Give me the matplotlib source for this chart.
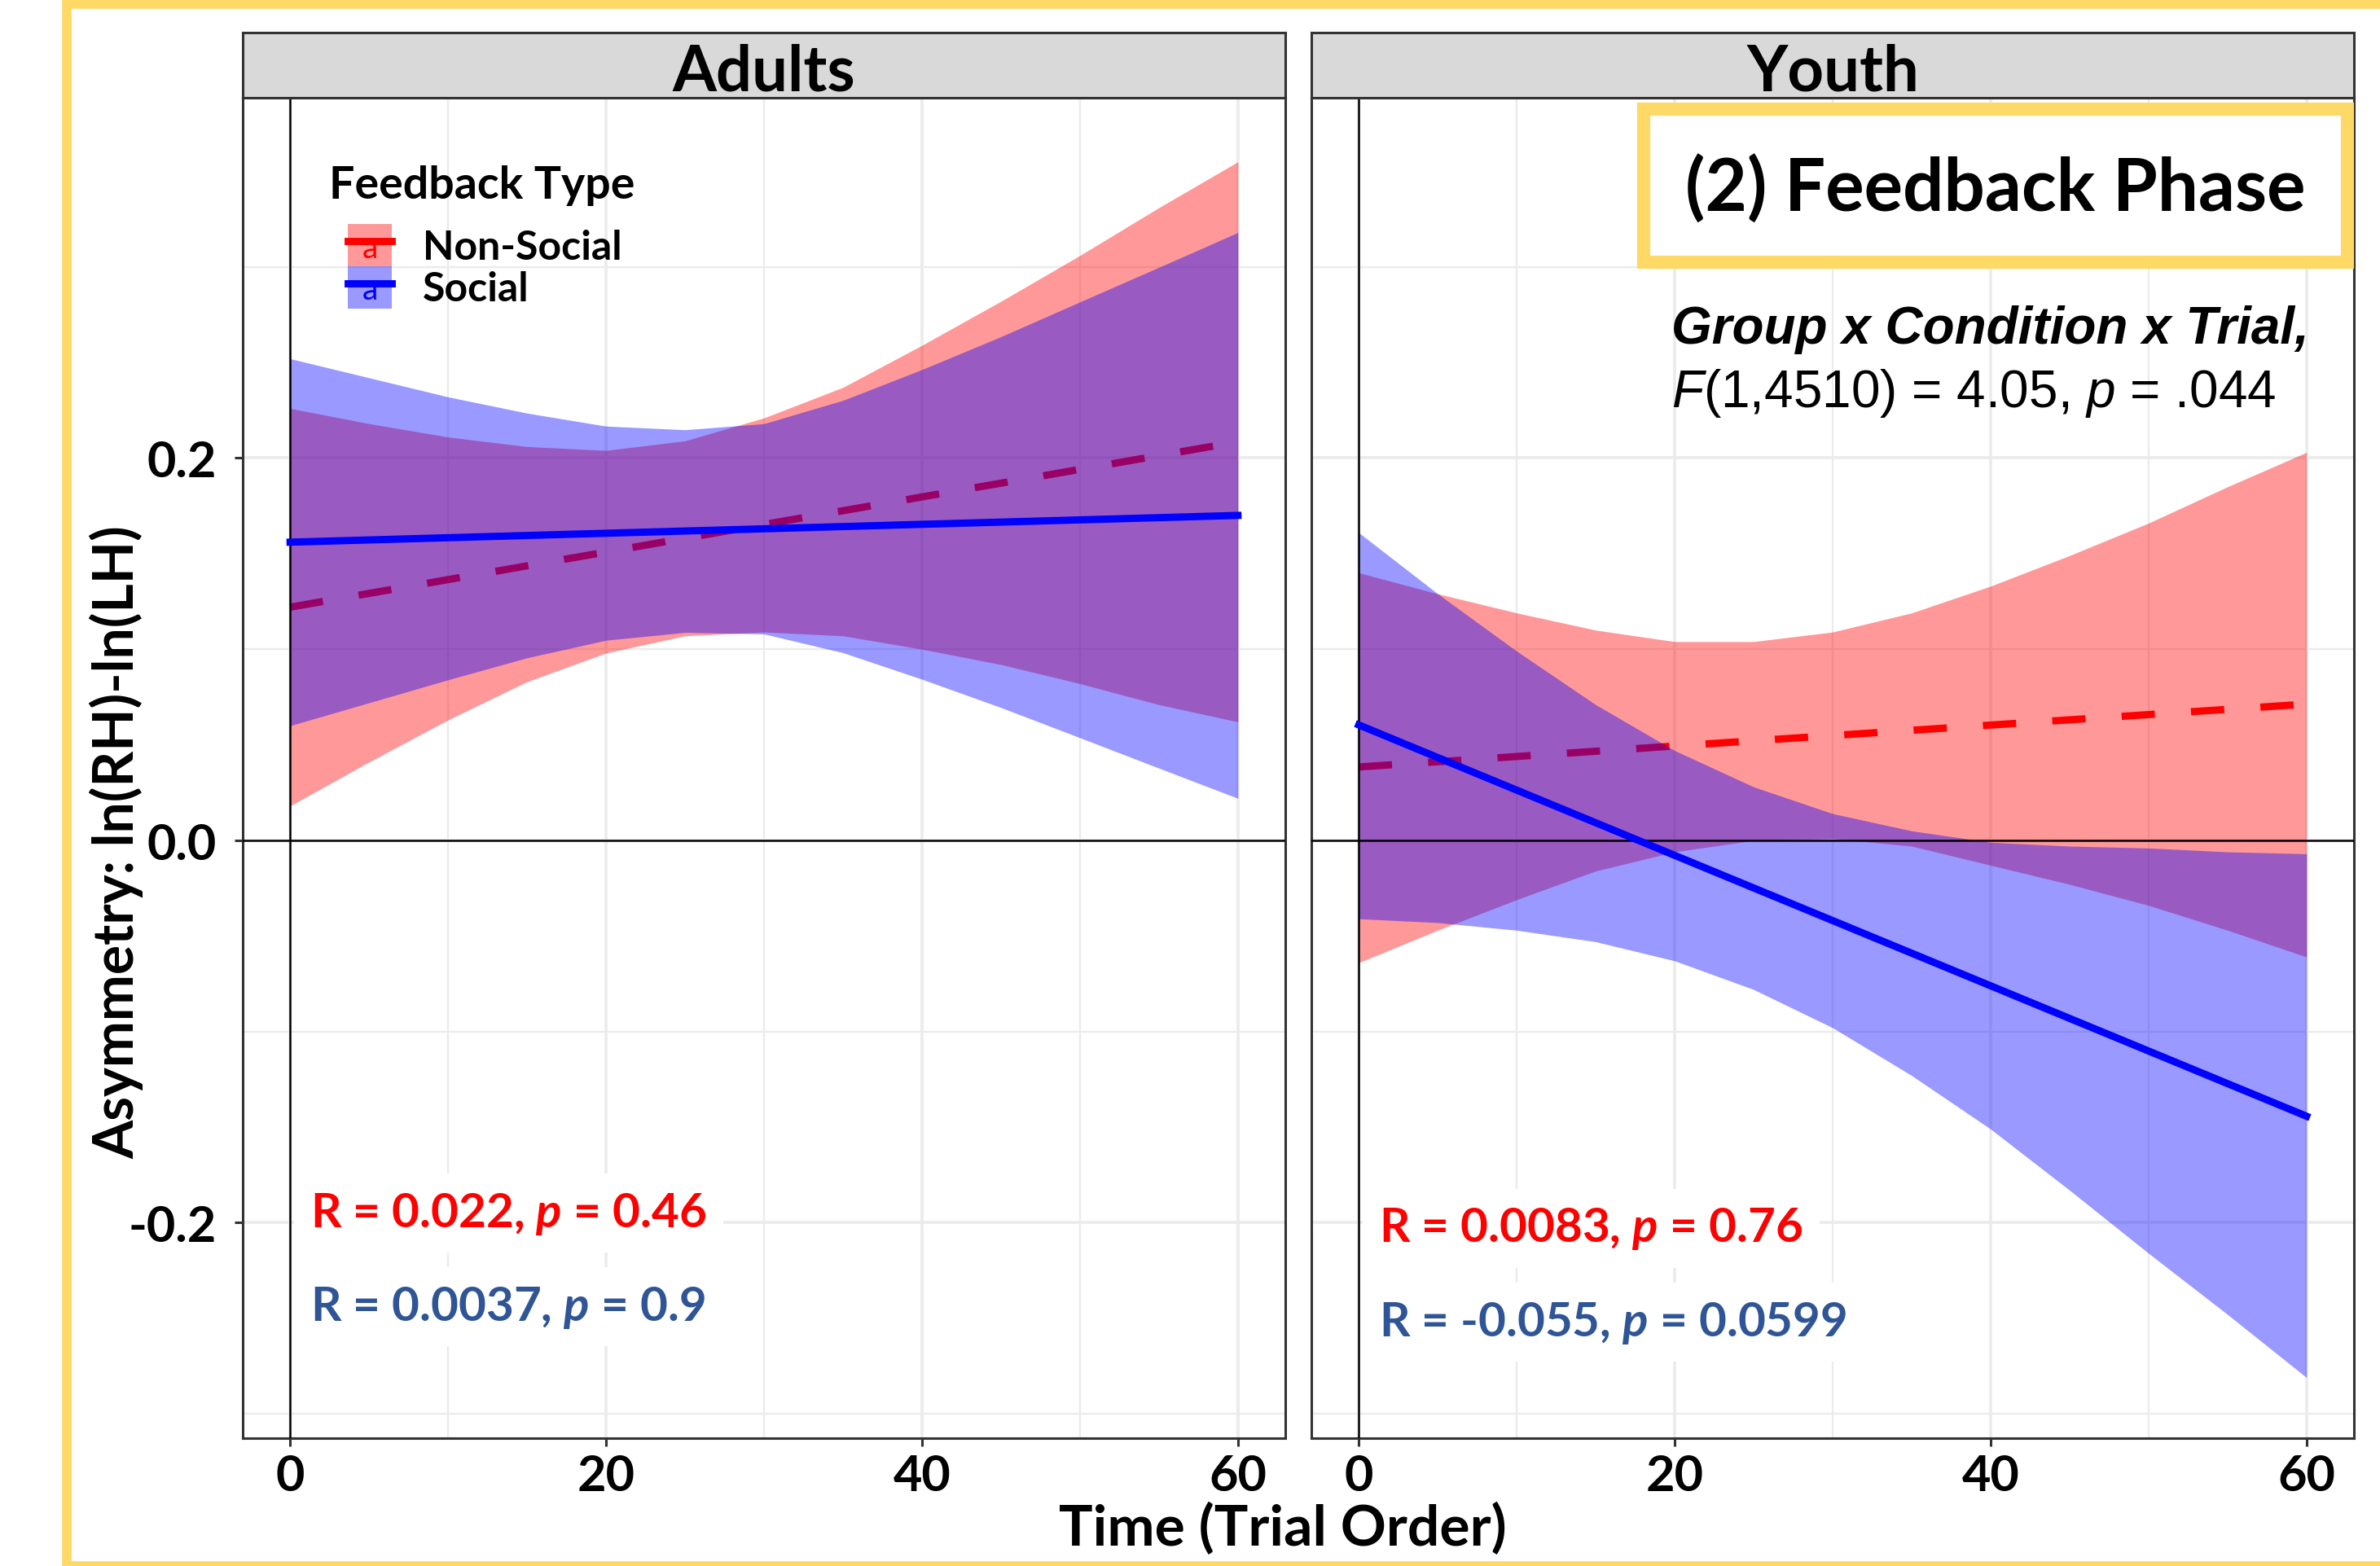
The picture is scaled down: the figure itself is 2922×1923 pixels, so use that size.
import matplotlib
matplotlib.use("Agg")
import matplotlib.pyplot as plt
from matplotlib.patches import Patch, Rectangle
from matplotlib.lines import Line2D
from matplotlib.legend_handler import HandlerTuple

plt.rcParams['font.family'] = ['Lato', 'DejaVu Sans']
plt.rcParams['mathtext.fontset'] = 'custom'
plt.rcParams['mathtext.rm'] = 'Liberation Sans'
plt.rcParams['mathtext.it'] = 'Liberation Sans:italic'
plt.rcParams['mathtext.bfit'] = 'Lato:italic:bold'

trial = [0, 5, 10, 15, 20, 25, 30, 35, 40, 45, 50, 55, 60]
fit_x = [0, 60]

# Adults
adult_ns_fit = [0.122, 0.2085]
adult_ns_hi = [0.226, 0.218, 0.211, 0.206, 0.204, 0.209, 0.221, 0.237, 0.259, 0.282, 0.306, 0.331, 0.355]
adult_ns_lo = [0.018, 0.041, 0.063, 0.083, 0.098, 0.107, 0.109, 0.107, 0.100, 0.092, 0.082, 0.071, 0.062]
adult_s_fit = [0.156, 0.170]
adult_s_hi = [0.252, 0.242, 0.232, 0.2235, 0.2167, 0.2148, 0.218, 0.2302, 0.2463, 0.2635, 0.2817, 0.2998, 0.318]
adult_s_lo = [0.060, 0.072, 0.084, 0.0955, 0.1047, 0.1088, 0.108, 0.0982, 0.0843, 0.0695, 0.0537, 0.0378, 0.022]

# Youth
youth_ns_fit = [0.0384, 0.0713]
youth_ns_hi = [0.140, 0.129, 0.119, 0.110, 0.104, 0.104, 0.109, 0.119, 0.133, 0.149, 0.166, 0.185, 0.203]
youth_ns_lo = [-0.064, -0.047, -0.031, -0.016, -0.006, 0.000, 0.001, -0.003, -0.013, -0.023, -0.034, -0.047, -0.061]
youth_s_fit = [0.0604, -0.1443]
youth_s_hi = [0.161, 0.129, 0.099, 0.071, 0.047, 0.028, 0.014, 0.005, -0.001, -0.003, -0.004, -0.006, -0.007]
youth_s_lo = [-0.041, -0.043, -0.047, -0.053, -0.063, -0.078, -0.098, -0.123, -0.151, -0.183, -0.216, -0.248, -0.281]

panels = ["Adults", "Youth"]
stats_ns = ["R = 0.022, $\\mathbfit{p}$ = 0.46", "R = 0.0083, $\\mathbfit{p}$ = 0.76"]
stats_s = ["R = 0.0037, $\\mathbfit{p}$ = 0.9", "R = -0.055, $\\mathbfit{p}$ = 0.0599"]
stat_y_ns = [-0.195, -0.203]
stat_y_s = [-0.244, -0.252]

RED = "#FF0000"
BLUE = "#0000FF"
TXT_BLUE = "#2F5597"
GOLD = "#FFD966"

fig = plt.figure(figsize=(14.61, 9.62), dpi=200)

# outer yellow frame
fig.patches.append(Rectangle((0.0282, 0.0), 1.2, 0.9969, transform=fig.transFigure,
                             fill=False, ec=GOLD, lw=4.2, zorder=0))

W, H = 2922, 1924
lefts = [298, 1610]
data = [
    (adult_ns_fit, adult_ns_hi, adult_ns_lo, adult_s_fit, adult_s_hi, adult_s_lo),
    (youth_ns_fit, youth_ns_hi, youth_ns_lo, youth_s_fit, youth_s_hi, youth_s_lo),
]

axes = []
for i, name in enumerate(panels):
    ax = fig.add_axes([lefts[i] / W, 157 / H, 1280 / W, 1646 / H])
    sax = fig.add_axes([lefts[i] / W, 1 - 121 / H, 1280 / W, 80 / H])
    axes.append(ax)

    ns_fit, ns_hi, ns_lo, s_fit, s_hi, s_lo = data[i]
    ax.fill_between(trial, ns_lo, ns_hi, color=RED, alpha=0.4, lw=0, zorder=2)
    ax.plot(fit_x, ns_fit, color=RED, lw=3.2, ls=(0, (4.6, 5.0)), zorder=3)
    ax.fill_between(trial, s_lo, s_hi, color=BLUE, alpha=0.4, lw=0, zorder=4)
    ax.axhline(0, color="black", lw=0.9, zorder=4.5)
    ax.axvline(0, color="black", lw=0.9, zorder=4.5)
    ax.plot(fit_x, s_fit, color=BLUE, lw=3.2, zorder=5)

    ax.set_xlim(-3, 63)
    ax.set_ylim(-0.3127, 0.3885)
    ax.set_xticks([0, 20, 40, 60])
    ax.set_xticks([10, 30, 50], minor=True)
    ax.set_yticks([-0.2, 0.0, 0.2])
    ax.set_yticks([-0.3, -0.1, 0.1, 0.3], minor=True)
    ax.set_axisbelow(True)
    ax.grid(True, which="major", color="#EBEBEB", lw=1.3)
    ax.grid(True, which="minor", color="#EBEBEB", lw=0.8)
    for sp in ax.spines.values():
        sp.set_color("#333333")
        sp.set_linewidth(1.1)
    ax.tick_params(which="major", length=3.6, width=1.1, color="#333333",
                   labelsize=22, pad=3)
    ax.tick_params(which="minor", length=0)
    for lab in ax.get_xticklabels() + ax.get_yticklabels():
        lab.set_fontweight("bold")
    if i == 0:
        ax.set_yticklabels(["-0.2", "0.0", "0.2"], fontweight="bold")
        ax.tick_params(axis="y", pad=8)
    else:
        ax.tick_params(axis="y", left=False, labelleft=False)

    ax.text(1.3, stat_y_ns[i], stats_ns[i], color=RED, fontsize=21, fontweight="bold",
            va="center", ha="left", zorder=6,
            bbox=dict(boxstyle="square,pad=0.35", fc="white", ec="none"))
    ax.text(1.3, stat_y_s[i], stats_s[i], color=TXT_BLUE, fontsize=21, fontweight="bold",
            va="center", ha="left", zorder=6,
            bbox=dict(boxstyle="square,pad=0.35", fc="white", ec="none"))

    # facet strip
    sax.set_facecolor("#D9D9D9")
    sax.set_xticks([])
    sax.set_yticks([])
    for sp in sax.spines.values():
        sp.set_color("#333333")
        sp.set_linewidth(1.1)
    sax.text(0.5, 0.40, name, transform=sax.transAxes, ha="center", va="center",
             fontsize=28, fontweight="bold")

# legend in the Adults panel
ax = axes[0]
ax.text(0.0828, 0.935, "Feedback Type", transform=ax.transAxes, ha="left",
        va="center", fontsize=20, fontweight="bold", zorder=8)
h_ns = (Patch(facecolor=RED, alpha=0.4, lw=0), Line2D([], [], color=RED, lw=3.2))
h_s = (Patch(facecolor=BLUE, alpha=0.4, lw=0), Line2D([], [], color=BLUE, lw=3.2))
leg = ax.legend([h_ns, h_s], ["Non-Social", "Social"],
                handler_map={tuple: HandlerTuple(ndivide=1)},
                loc="upper left", bbox_to_anchor=(0.101, 0.906), frameon=False,
                prop={"weight": "bold", "size": 18},
                handlelength=1.08, handleheight=1.22, labelspacing=0.0,
                handletextpad=0.75, borderaxespad=0, borderpad=0)

# small "a" glyphs in the legend keys (label geom keys)
fig.canvas.draw()
for key, col in zip(leg.legend_handles, [RED, BLUE]):
    bb = key.get_window_extent()
    fig.text((bb.x0 + bb.x1) / 2 / W, (bb.y0 + bb.y1) / 2 / H - 0.002, "a",
             color=col, fontsize=14, ha="center", va="center", zorder=10)

# annotation box in the Youth panel
ax = axes[1]
ax.add_patch(Rectangle((0.319, 0.8773), 0.675, 0.1142, transform=ax.transAxes,
                       fc="white", ec=GOLD, lw=5.8, zorder=7, clip_on=False))
ax.text(0.656, 0.9326, "(2) Feedback Phase", transform=ax.transAxes, ha="center",
        va="center", fontsize=32, fontweight="bold", zorder=8)
ax.text(0.3453, 0.8171, "Group x Condition x Trial,", transform=ax.transAxes,
        ha="left", va="baseline", fontsize=23, fontweight="bold", fontstyle="italic",
        family="Liberation Sans", zorder=8)
ax.text(0.3453, 0.7697, "$\\mathit{F}$(1,4510) = 4.05, $\\mathit{p}$ = .044",
        transform=ax.transAxes, ha="left", va="baseline", fontsize=23,
        family="Liberation Sans", zorder=8)

fig.text(143 / W, 1 - 1034 / H, "Asymmetry: ln(RH)-ln(LH)", rotation=90,
         ha="center", va="center", fontsize=24.5, fontweight="bold")
fig.text(1575 / W, 1 - 1878 / H, "Time (Trial Order)", ha="center", va="center",
         fontsize=25, fontweight="bold")

fig.savefig("out.png", dpi=200)
